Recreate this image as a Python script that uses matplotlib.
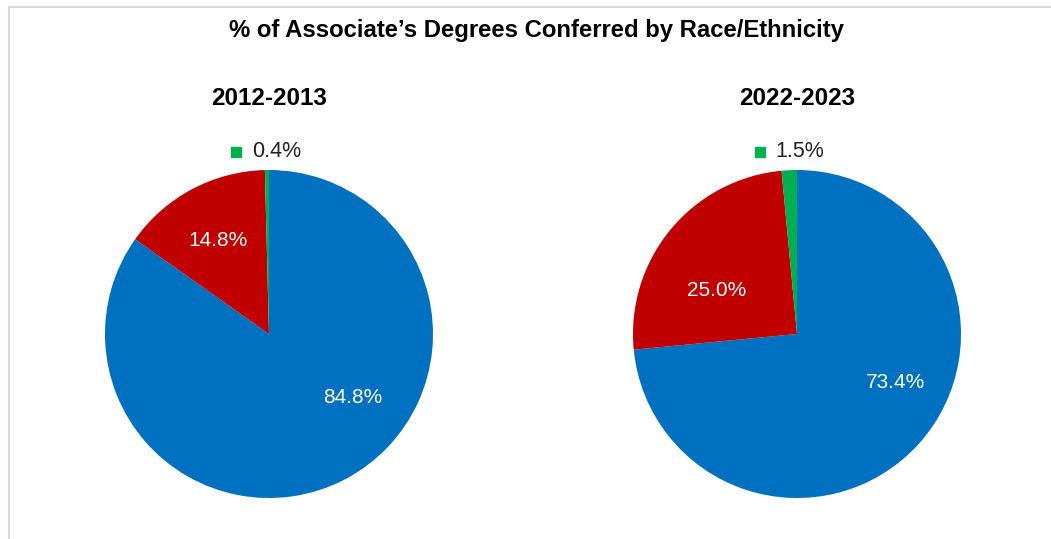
import numpy as np
import matplotlib.pyplot as plt
from matplotlib.patches import Rectangle

plt.rcParams['font.family'] = ['Liberation Sans', 'DejaVu Sans']

title = '% of Associate\u2019s Degrees Conferred by Race/Ethnicity'
years = ['2012-2013', '2022-2023']
groups = ['White', 'Black', 'Other']
shares_2013 = [84.8, 14.8, 0.4]
shares_2023 = [73.4, 25.0, 1.5]
colors = ['#0070C0', '#C00000', '#00B050']

# label placement (angle in degrees, radius as fraction of pie radius) for big slices
label_pos = [
    [(-36.9, 0.64), (118.5, 0.65)],
    [(-26.3, 0.67), (151.5, 0.56)],
]
# small slice label: x of legend key, y
small_pos = [(-0.20, 1.11), (-0.226, 1.11)]

W, H = 1051, 539
fig = plt.figure(figsize=(W / 100, H / 100), dpi=100)

# light border like the original chart area
fig.patches.append(Rectangle((9 / W, -0.1), 1.2, 1 - 6.5 / H + 0.1, transform=fig.transFigure,
                             fill=False, edgecolor='#D9D9D9', linewidth=1.5))

fig.text(536 / W, 1 - 31 / H, title, ha='center', va='center', fontsize=17.2, fontweight='bold')

centers = [269, 797]
R = 164
for i, vals in enumerate([shares_2013, shares_2023]):
    cx = centers[i]
    ax = fig.add_axes([(cx - R) / W, (H - 334 - R) / H, 2 * R / W, 2 * R / H])
    ax.pie(vals, colors=colors, startangle=90, counterclock=False,
           wedgeprops=dict(linewidth=0))
    ax.set_xlim(-1, 1)
    ax.set_ylim(-1, 1)
    ax.set_aspect('equal')
    ax.axis('off')
    fig.text(cx / W, 1 - 98 / H, years[i], ha='center', va='center', fontsize=17.5, fontweight='bold')
    for j in range(2):
        ang, r = label_pos[i][j]
        a = np.radians(ang)
        ax.text(r * np.cos(a), r * np.sin(a), '%.1f%%' % vals[j], ha='center', va='center',
                color='white', fontsize=15)
    sx, sy = small_pos[i]
    ax.plot([sx], [sy], marker='s', markersize=7, color=colors[2], clip_on=False)
    ax.text(sx + 0.095, sy, '%.1f%%' % vals[2], ha='left', va='center', color='#222222',
            fontsize=15.5, clip_on=False)

fig.savefig('out.png', dpi=100)
